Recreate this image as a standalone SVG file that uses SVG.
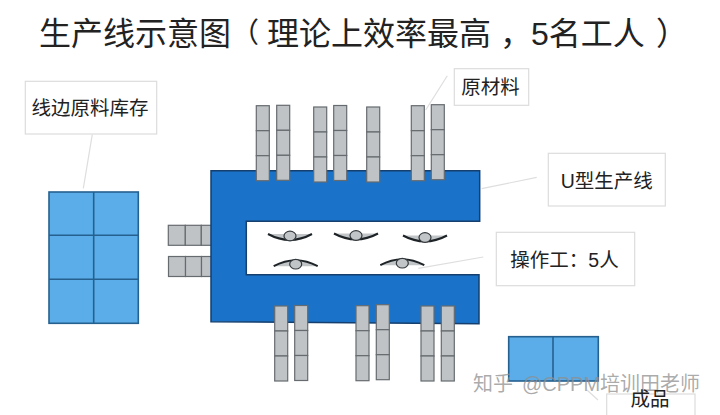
<svg xmlns="http://www.w3.org/2000/svg" width="720" height="415" viewBox="0 0 720 415">
<style>
text{font-family:"Liberation Sans","Noto Sans CJK SC",sans-serif;fill:#222}
.title{font-size:32px}
.paren{font-size:28px}
.lbl{font-size:19.5px;text-anchor:middle}
.box{fill:#fff;stroke:#dcdcdc;stroke-width:1.2}
.lead{fill:none;stroke:#dedede;stroke-width:1.2}
.cell{fill:#bfc3c6;stroke:#666b6f;stroke-width:1.2}
.bin{fill:#5aade8;stroke:#25608f;stroke-width:1.6}
.line{fill:#1a73c8;stroke:#153f6e;stroke-width:1.5}
.mark{font-size:20px;fill:#8f8f8f;fill-opacity:.75}
.body{fill:#c2c5c7;stroke:none}
.arc{fill:none;stroke:#1d2327;stroke-width:2}
.head{fill:#c2c5c7;stroke:#33393d;stroke-width:1.2}
</style>
<defs>
<g id="v"><rect class="cell" width="13" height="25"/><rect class="cell" y="25" width="13" height="25"/><rect class="cell" y="50" width="13" height="25"/></g>
<g id="h"><rect class="cell" width="17" height="20"/><rect class="cell" x="17" width="16" height="20"/><rect class="cell" x="33" width="16" height="20"/></g>
<g id="w"><path class="body" d="M-22-2.500H22Q0 9.400-22-2.500Z"/><path class="arc" d="M-22-2.500Q0 9.400 22-2.500"/><ellipse class="head" cx="0" cy="-.5" rx="6" ry="4.800"/></g>
</defs>
<text id="title" class="title" y="45"><tspan x="39">生产线示意图</tspan><tspan class="paren" x="231" y="43">（</tspan><tspan x="267" y="45">理论上效率最高</tspan><tspan x="500">，</tspan><tspan x="531">5名工人</tspan><tspan x="656">）</tspan></text>

<g id="connectors">
<path class="lead" d="M92.300 134.300L83.300 188.300"/>
<path class="lead" d="M447.300 75.700L425.700 110"/>
<path class="lead" d="M536.700 177.300L481.700 188.700"/>
<path class="lead" d="M483.300 257L418.300 268.300"/>
<path class="lead" d="M587 390L598 400"/>
</g>

<g id="label-stock"><rect class="box" x="25.300" y="81.300" width="131.400" height="52.700"/><text class="lbl" x="90" y="115">线边原料库存</text></g>
<g id="label-material"><rect class="box" x="454.300" y="68.700" width="74.400" height="36.600"/><text class="lbl" x="490.500" y="94">原材料</text></g>
<g id="label-line"><rect class="box" x="548.300" y="153.300" width="117" height="52.700"/><text class="lbl" x="606.700" y="188">U型生产线</text></g>
<g id="label-operator"><rect class="box" x="496.300" y="232.300" width="138.400" height="53.400"/><text class="lbl" x="564.500" y="267">操作工：5人</text></g>

<g id="stock"><rect class="bin" x="49" y="192" width="89.300" height="131.300"/><path class="bin" d="M93.700 192V323.300M49 235.300H138.300M49 279.300H138.300"/></g>

<g id="left-materials">
<use href="#h" x="168.300" y="225.300"/>
<use href="#h" x="168.500" y="256.500"/>
</g>

<g id="u-line"><path class="line" d="M211 170.700H479.700V221.300H246.300V274.700H479V323.700L211 321.700Z"/></g>

<g id="top-materials">
<use href="#v" x="256.300" y="105.700"/>
<use href="#v" x="276.700" y="105.300"/>
<use href="#v" x="313.700" y="107"/>
<use href="#v" x="333.700" y="105.500"/>
<use href="#v" x="366.700" y="107"/>
<use href="#v" x="411.300" y="105.700"/>
<use href="#v" x="431.300" y="104.700"/>
</g>

<g id="bottom-materials">
<use href="#v" x="274.700" y="306"/>
<use href="#v" x="294.700" y="305.500"/>
<use href="#v" x="356" y="305.700"/>
<use href="#v" x="376.300" y="304.700"/>
<use href="#v" x="421" y="306"/>
<use href="#v" x="441.300" y="306"/>
</g>

<g id="operators">
<use href="#w" transform="translate(290 236.500)"/>
<use href="#w" transform="translate(356 236)"/>
<use href="#w" transform="translate(425 238)"/>
<use href="#w" transform="translate(295.700 263.700) scale(1 -1)"/>
<use href="#w" transform="translate(402.300 262.700) scale(1 -1)"/>
</g>

<g id="finished"><rect class="bin" x="508.700" y="336.700" width="89.600" height="44.300"/><path class="bin" d="M553 336.700V381"/></g>
<g id="label-finished"><rect class="box" x="606.700" y="394" width="88.300" height="30"/></g>
<text id="watermark" class="mark" y="391"><tspan x="473">知乎</tspan><tspan x="522">@CPPM培训田老师</tspan></text>
<text class="lbl" x="650" y="406">成品</text>
</svg>
